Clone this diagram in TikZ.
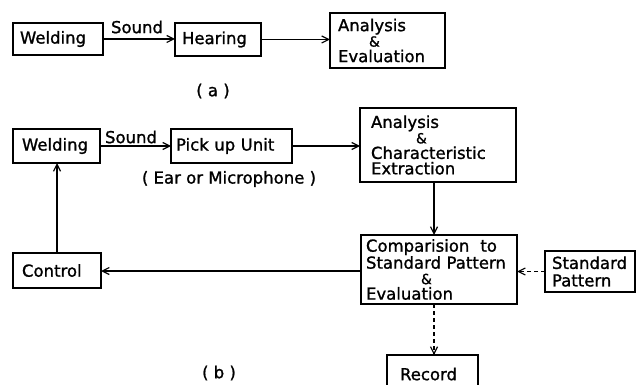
\documentclass[tikz,border=0pt]{standalone}
\usepackage{fontspec}
\setmainfont{DejaVu Sans}[FakeBold=1.2]
\usetikzlibrary{arrows.meta}
\tikzset{
  bx/.style={draw, line width=1.4pt, align=left, inner ysep=0pt, outer sep=0pt,
    anchor=north west, font=\fontsize{16.5}{15.5}\selectfont},
  lbl/.style={inner sep=0pt, font=\fontsize{16.5}{15.5}\selectfont},
  arr/.style={line width=1.2pt, -{Straight Barb[length=7pt,width=7pt,line width=1.2pt]}},
  darr/.style={arr, dash pattern=on 4pt off 3pt}
}
\newcommand{\amp}{{\fontsize{14}{15.5}\selectfont\&}}
\begin{document}
\begin{tikzpicture}[x=1pt,y=-1pt]
\useasboundingbox (0,0) rectangle (643,385);
\fill[white] (0,0) rectangle (643,385);
\clip (0,0) rectangle (643,385);
% (a)
\node[bx, text width=76pt, inner xsep=7pt, minimum height=32pt] (weldA) at (13,23) {Welding};
\node[bx, text width=72pt, inner xsep=7pt, minimum height=33pt] (hearA) at (175,23) {Hearing};
\node[bx, text width=99pt, inner xsep=8pt, minimum height=55pt] (anaA) at (330,13)
  {Analysis\\\hspace*{31pt}\amp\\Evaluation};
\node[lbl] (sndA) at (137,27) {Sound};
\node[lbl] (labA) at (213,91) {( a )};
\draw[arr] (weldA.east) -- (hearA.west |- weldA.east);
\draw[arr] (hearA.east) -- (anaA.west |- hearA.east);
% (b)
\node[bx, text width=69pt, inner xsep=9pt, minimum height=34pt] (weldB) at (13,129) {Welding};
\node[bx, text width=111pt, inner xsep=5pt, minimum height=34pt] (pickB) at (171,129) {Pick up Unit};
\node[bx, text width=134pt, inner xsep=11pt, minimum height=74pt] (anaB) at (360,108)
  {Analysis\\\hspace*{45pt}\amp\\Characteristic\\Extraction};
\node[bx, text width=146pt, inner xsep=5pt, minimum height=69pt] (compB) at (361,235)
  {Comparision\ \ to\\Standard Pattern\\\hspace*{55pt}\amp\\Evaluation};
\node[bx, text width=76pt, inner xsep=7pt, minimum height=41pt,
  font=\fontsize{16.5}{17.5}\selectfont] (stdB) at (545,251) {Standard\\Pattern};
\node[bx, text width=70pt, inner xsep=9pt, minimum height=35pt] (ctrlB) at (13,253) {Control};
\node[bx, text width=65pt, inner xsep=13pt, minimum height=38pt] (recB) at (387,355) {Record};
\node[lbl] (sndB) at (131,137) {Sound};
\node[lbl] (earB) at (229,179) {( Ear or Microphone )};
\node[lbl] (labB) at (219,373) {( b )};
\coordinate (cw) at ([yshift=-1.5pt]compB.west);
\draw[arr] (weldB.east) -- (pickB.west |- weldB.east);
\draw[arr] (pickB.east) -- (anaB.west |- pickB.east);
\draw[arr] ([xshift=-4pt]anaB.south) -- ([xshift=-4pt]anaB.south |- compB.north);
\draw[arr] (cw) -- (ctrlB.east |- cw);
\draw[darr] (stdB.west) -- (compB.east |- stdB.west);
\draw[darr] ([xshift=-5pt]compB.south) -- ([xshift=-5pt]compB.south |- recB.north);
\draw[arr] (ctrlB.north) -- (ctrlB.north |- weldB.south);
\end{tikzpicture}
\end{document}
